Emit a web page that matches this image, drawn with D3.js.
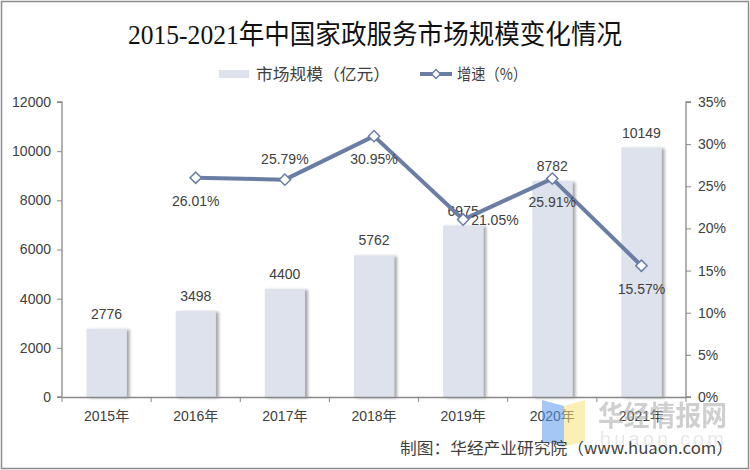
<!DOCTYPE html>
<html><head><meta charset="utf-8">
<script src="https://cdn.jsdelivr.net/npm/d3@7"></script>
<style>body{margin:0;background:#fff;}svg{display:block;}</style>
</head><body><svg id="c" width="750" height="470"></svg>
<script>
const years = ["2015年","2016年","2017年","2018年","2019年","2020年","2021年"];
const marketSize = [2776,3498,4400,5762,6975,8782,10149];
const growth = [null,26.01,25.79,30.95,21.05,25.91,15.57];
const leftTicks = [0,2000,4000,6000,8000,10000,12000];
const rightTicks = [0,5,10,15,20,25,30,35];
const growthLabelPos = [null,"below","above","below","right","below","below"];

const svg = d3.select("#c");
const W=750,H=470;
const m={l:62,r:64,t:102,b:73};
const x0=m.l,x1=W-m.r,y0=H-m.b,y1=m.t;
const font="Arial, 'Liberation Sans', 'Noto Sans CJK SC', sans-serif";
const txt="#404040";

svg.append("rect").attr("width",W).attr("height",H).attr("fill","#fff");
svg.append("rect").attr("x",1.5).attr("y",1.5).attr("width",W-3).attr("height",H-3)
  .attr("fill","none").attr("stroke","#8c8c8c").attr("stroke-width",1.5);

const defs=svg.append("defs");
const f=defs.append("filter").attr("id","sh").attr("x","-20%").attr("y","-10%").attr("width","150%").attr("height","120%");
f.append("feDropShadow").attr("dx",3).attr("dy",1).attr("stdDeviation",1.6).attr("flood-color","#000").attr("flood-opacity",0.35);

const x=d3.scaleBand().domain(years).range([x0,x1]).paddingInner(0.55).paddingOuter(0.275);
const xb=d3.scaleBand().domain(years).range([x0,x1]);
const yL=d3.scaleLinear().domain([0,12000]).range([y0,y1]);
const yR=d3.scaleLinear().domain([0,35]).range([y0,y1]);

// title
svg.append("text").attr("x",128).attr("y",44)
  .attr("font-family","'Liberation Serif', 'Noto Sans CJK SC', serif").attr("font-size",27).attr("font-weight",400)
  .attr("textLength",494).attr("lengthAdjust","spacingAndGlyphs")
  .attr("fill","#111").text("2015-2021年中国家政服务市场规模变化情况");

// legend
const lg=svg.append("g").attr("font-family","'Noto Sans CJK SC', sans-serif").attr("font-size",16).attr("fill",txt);
lg.append("rect").attr("x",219).attr("y",70).attr("width",30).attr("height",8).attr("fill","#dde2ec");
lg.append("text").attr("x",256).attr("y",80).attr("textLength",134).attr("lengthAdjust","spacingAndGlyphs").text("市场规模（亿元）");
lg.append("line").attr("x1",420).attr("x2",452).attr("y1",74).attr("y2",74).attr("stroke","#6a7ea5").attr("stroke-width",4);
lg.append("path").attr("d",d3.symbol(d3.symbolSquare,40)()).attr("transform","translate(436,74) rotate(45)")
  .attr("fill","#fff").attr("stroke","#6a7ea5").attr("stroke-width",1.5);
lg.append("text").attr("x",457).attr("y",80).attr("textLength",70).attr("lengthAdjust","spacingAndGlyphs").text("增速（%）");

// bars
svg.append("g").selectAll("rect").data(marketSize).join("rect")
  .attr("x",(d,i)=>x(years[i])).attr("width",x.bandwidth())
  .attr("y",d=>yL(d)).attr("height",d=>y0-yL(d))
  .attr("fill","#dde2ec").attr("filter","url(#sh)");

// axes
const axL=svg.append("g").attr("transform",`translate(${x0},0)`)
  .call(d3.axisLeft(yL).tickValues(leftTicks).tickSize(5).tickPadding(6).tickFormat(d3.format("d")));
const axR=svg.append("g").attr("transform",`translate(${x1},0)`)
  .call(d3.axisRight(yR).tickValues(rightTicks).tickSize(5).tickPadding(7).tickFormat(d=>d+"%"));
const axB=svg.append("g").attr("transform",`translate(0,${y0})`)
  .call(d3.axisBottom(xb).tickSize(0).tickPadding(14));
axB.selectAll(".tick").append("line").attr("x1",-xb.bandwidth()/2).attr("x2",-xb.bandwidth()/2).attr("y2",5).attr("stroke","#888");
axB.append("line").attr("x1",x1).attr("x2",x1).attr("y2",5).attr("stroke","#888");
[axL,axR,axB].forEach(a=>{
  a.selectAll("path.domain").attr("stroke","#888").attr("stroke-width",1.3);
  a.selectAll(".tick line").attr("stroke","#888");
  a.selectAll("text").attr("font-family",font).attr("font-size",14).attr("fill",txt);
});
axL.select("path.domain").attr("d",`M-5,${y1}H0V${y0}H-5`);
axR.select("path.domain").attr("d",`M5,${y1}H0V${y0}H5`);

// bar labels
svg.append("g").selectAll("text").data(marketSize).join("text")
  .attr("x",(d,i)=>xb(years[i])+xb.bandwidth()/2).attr("y",d=>yL(d)-10)
  .attr("text-anchor","middle").attr("font-family",font).attr("font-size",14).attr("fill",txt)
  .text(d=>d);

// line
const pts=growth.map((g,i)=>g==null?null:{x:xb(years[i])+xb.bandwidth()/2,y:yR(g),v:g,p:growthLabelPos[i]}).filter(d=>d);
svg.append("path").datum(pts).attr("d",d3.line().x(d=>d.x).y(d=>d.y))
  .attr("fill","none").attr("stroke","#6a7ea5").attr("stroke-width",4).attr("stroke-linejoin","round");
svg.append("g").selectAll("path").data(pts).join("path")
  .attr("d",d3.symbol(d3.symbolSquare,64)()).attr("transform",d=>`translate(${d.x},${d.y}) rotate(45)`)
  .attr("fill","#fff").attr("stroke","#6a7ea5").attr("stroke-width",1.5);
svg.append("g").selectAll("text").data(pts).join("text")
  .attr("x",d=>d.p==="right"?d.x+8:d.x)
  .attr("y",d=>d.p==="above"?d.y-16:d.p==="below"?d.y+28:d.y+5)
  .attr("text-anchor",d=>d.p==="right"?"start":"middle")
  .attr("font-family",font).attr("font-size",14).attr("fill",txt)
  .text(d=>d.v.toFixed(2)+"%");

// watermark
const wm=svg.append("g").attr("opacity",0.55);
wm.append("path").attr("d","M542,400 L564,406 L564,447 L542,441 Z").attr("fill","#5b9bf0");
wm.append("path").attr("d","M564,406 L585,400 L585,441 L564,447 Z").attr("fill","#f6e27a");
wm.append("text").attr("x",598).attr("y",426).attr("font-family","'Noto Sans CJK SC', sans-serif").attr("font-weight",700)
  .attr("font-size",28).attr("textLength",129).attr("lengthAdjust","spacingAndGlyphs").attr("fill","#a8a8a8").text("华经情报网");
wm.append("text").attr("x",600).attr("y",446).attr("font-family",font)
  .attr("font-size",20).attr("fill","#d4d4d4").attr("textLength",124).attr("lengthAdjust","spacing").text("huaon.com");

// footer
svg.append("text").attr("x",400).attr("y",454)
  .attr("font-family","'Noto Sans CJK SC', Arial, sans-serif").attr("font-size",16).attr("fill",txt)
  .attr("textLength",333).attr("lengthAdjust","spacingAndGlyphs")
  .text("制图：华经产业研究院（www.huaon.com）");
</script></body></html>
